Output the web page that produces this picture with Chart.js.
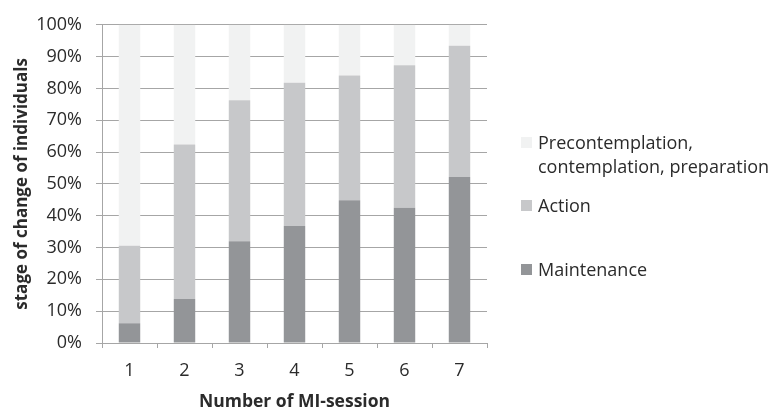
<!DOCTYPE html>
<html>
<head>
<meta charset="utf-8">
<script src="https://cdn.jsdelivr.net/npm/chart.js@4"></script>
<style>
  html, body { margin: 0; padding: 0; background: #ffffff; overflow: hidden; }
  #wrap { position: relative; width: 777px; height: 411px; }
  #chart { position: absolute; left: 0; top: 0; }
  .legend-item { position: absolute; left: 521px; font-family: "Open Sans", sans-serif; font-size: 18px; line-height: 24px; color: #2b2b2b; }
  .legend-item .box { position: absolute; left: 0; width: 11px; height: 11px; }
  .legend-item .txt { position: absolute; left: 17px; width: 250px; white-space: normal; }
</style>
</head>
<body>
<div id="wrap">
  <canvas id="chart" width="777" height="411"></canvas>
</div>
<script>
// Sessions along the x axis
const sessions = ['1', '2', '3', '4', '5', '6', '7'];

// Share of individuals (%) in each stage of change, per session
const maintenance = [6.2, 13.8, 32.0, 36.8, 44.9, 42.5, 52.2];
const action = [24.4, 48.6, 44.3, 45.0, 39.2, 44.8, 41.2];
const precontemplation = [69.4, 37.6, 23.7, 18.2, 15.9, 12.7, 6.6];

// Series names
const seriesNames = ['Maintenance', 'Action', 'Precontemplation, contemplation, preparation'];

// Y axis tick values (percent)
const yTicks = [0, 10, 20, 30, 40, 50, 60, 70, 80, 90, 100];

const colors = ['#939598', '#c7c8ca', '#f1f2f2'];
const gridColor = '#a6a6a6';
const textColor = '#2b2b2b';
const fontFamily = '"Open Sans", sans-serif';

const seriesValues = [maintenance, action, precontemplation];

const datasets = seriesValues.map((vals, i) => ({
  label: seriesNames[i],
  data: vals,
  backgroundColor: colors[i],
  borderWidth: 0,
  barPercentage: 0.39,
  categoryPercentage: 1.0
}));

const chart = new Chart(document.getElementById('chart'), {
  type: 'bar',
  data: { labels: sessions, datasets: datasets },
  options: {
    responsive: false,
    animation: false,
    devicePixelRatio: 1,
    layout: { padding: { left: 0, top: 21, right: 290, bottom: 0 } },
    plugins: { legend: { display: false }, tooltip: { enabled: false } },
    scales: {
      x: {
        stacked: true,
        offset: true,
        grid: { drawOnChartArea: false, drawTicks: true, tickLength: 5, offset: true, color: gridColor, lineWidth: 1 },
        border: { display: true, color: gridColor, width: 1 },
        ticks: { color: textColor, font: { family: fontFamily, size: 18 }, padding: 12, maxRotation: 0 },
        title: { display: true, text: 'Number of MI-session', color: textColor, font: { family: fontFamily, size: 17.5, weight: 'bold' }, padding: { top: 0, bottom: -2 } },
        afterFit: (scale) => { scale.height = 68; }
      },
      y: {
        stacked: true,
        min: 0,
        max: 100,
        afterBuildTicks: (scale) => { scale.ticks = yTicks.map(v => ({ value: v })); },
        grid: { color: gridColor, lineWidth: 1, drawTicks: true, tickLength: 6 },
        border: { display: true, color: gridColor, width: 1 },
        ticks: { color: textColor, font: { family: fontFamily, size: 18 }, padding: 14, callback: (v) => v + '%' },
        title: { display: true, text: 'stage of change of individuals', color: textColor, font: { family: fontFamily, size: 17, weight: 'bold' }, padding: { top: 12, bottom: 0 } },
        afterFit: (scale) => { scale.width = 102; }
      }
    }
  }
});

// Legend, listed top-down in stacking order (top segment first)
const legendTops = [130, 193, 257];
const wrap = document.getElementById('wrap');
chart.data.datasets.slice().reverse().forEach((ds, i) => {
  const item = document.createElement('div');
  item.className = 'legend-item';
  item.style.top = legendTops[i] + 'px';
  const box = document.createElement('span');
  box.className = 'box';
  box.style.background = ds.backgroundColor;
  box.style.top = '7px';
  const txt = document.createElement('span');
  txt.className = 'txt';
  txt.textContent = ds.label;
  item.appendChild(box);
  item.appendChild(txt);
  wrap.appendChild(item);
});
</script>
</body>
</html>
